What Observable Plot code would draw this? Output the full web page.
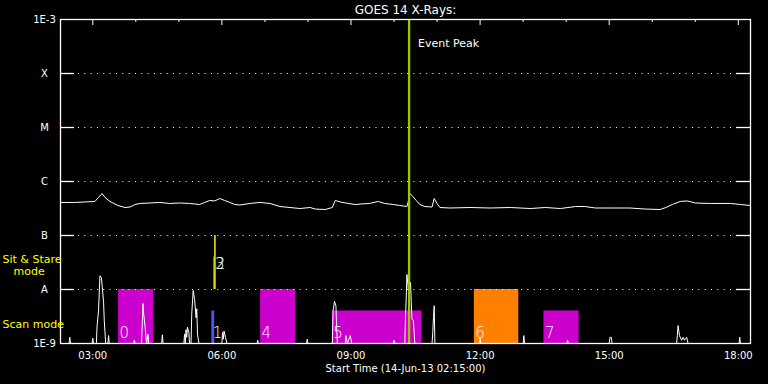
<!DOCTYPE html>
<html><head><meta charset="utf-8">
<script src="https://cdn.jsdelivr.net/npm/d3@7"></script>
<script src="https://cdn.jsdelivr.net/npm/@observablehq/plot@0.6"></script>
<style>html,body{margin:0;padding:0;background:#000;}</style>
</head><body><div id="chart"></div>
<script>
// ---- data ----
const title = "GOES 14 X-Rays:";
const xTitle = "Start Time (14-Jun-13 02:15:00)";
const timeDomain = ["02:15", "18:17"];
const hourTicks = [3,4,5,6,7,8,9,10,11,12,13,14,15,16,17,18];
const labelHours = [3, 6, 9, 12, 15, 18];
const levelValues = [1e-9, 1e-8, 1e-7, 1e-6, 1e-5, 1e-4, 1e-3];
const levelLabels = ["1E-9", "A", "B", "C", "M", "X", "1E-3"];

const goesTimes = ["02:15","02:35","02:49","03:03","03:08","03:13","03:17","03:24","03:35","03:45",
  "03:52","03:59","04:06","04:20","04:33","04:47","05:01","05:15","05:29","05:36",
  "05:43","05:50","05:57","06:04","06:11","06:18","06:25","06:39","06:53","07:07",
  "07:21","07:35","07:49","08:03","08:10","08:24","08:34","08:38","08:45","08:56",
  "09:06","09:15","09:26","09:38","09:47","09:59","10:08","10:18","10:21","10:22",
  "10:26","10:31","10:36","10:43","10:53","10:56","11:00","11:04","11:18","11:46",
  "12:14","12:42","13:10","13:31","13:52","14:13","14:26","14:41","15:02","15:29",
  "15:50","16:11","16:19","16:28","16:39","16:49","17:00","17:21","17:49","18:03",
  "18:17"];
const goesFlux = [4.09e-7,4.09e-7,4.18e-7,4.27e-7,5.06e-7,6.0e-7,5.06e-7,4.27e-7,3.59e-7,3.30e-7,
  3.37e-7,3.75e-7,3.92e-7,4.0e-7,4.09e-7,3.92e-7,4.0e-7,3.92e-7,3.75e-7,4.09e-7,
  4.45e-7,4.36e-7,4.84e-7,4.45e-7,4.09e-7,3.75e-7,3.67e-7,3.92e-7,4.09e-7,3.92e-7,
  3.44e-7,3.30e-7,3.16e-7,3.30e-7,3.09e-7,3.03e-7,3.30e-7,4.45e-7,4.18e-7,3.92e-7,
  3.75e-7,3.84e-7,3.92e-7,4.27e-7,3.92e-7,3.75e-7,3.59e-7,3.44e-7,4.84e-7,6.0e-7,
  5.3e-7,4.45e-7,3.75e-7,3.44e-7,3.37e-7,4.84e-7,3.92e-7,3.30e-7,3.23e-7,3.30e-7,
  3.23e-7,3.30e-7,3.16e-7,3.30e-7,3.16e-7,3.44e-7,3.44e-7,3.23e-7,3.23e-7,3.23e-7,
  3.09e-7,3.03e-7,3.30e-7,3.75e-7,4.27e-7,4.36e-7,4.0e-7,3.92e-7,3.92e-7,3.75e-7,
  3.59e-7];

const lowTimes = ["02:15","02:27","02:28","02:29","02:59","03:00","03:01","03:05","03:06","03:08",
  "03:10","03:12","03:13","03:15","03:16","03:18","03:21","03:22","03:23","03:57",
  "03:58","03:59","04:08","04:10","04:11","04:13","04:15","04:17","04:18","04:36",
  "04:37","04:38","05:07","05:08","05:09","05:10","05:11","05:12","05:14","05:15",
  "05:17","05:18","05:20","05:22","05:24","05:25","05:26","05:28","06:00","06:01",
  "06:02","06:03","06:05","06:07","06:49","06:50","06:51","07:58","07:59","08:00",
  "08:34","08:35","08:37","08:39","08:40","08:41","08:52","08:53","08:55","08:59",
  "09:00","09:01","09:59","10:00","10:01","10:15","10:16","10:17","10:18","10:20",
  "10:22","10:23","10:24","10:25","10:27","10:29","10:53","10:54","10:55","10:56",
  "10:57","11:59","12:00","12:01","13:00","13:01","13:02","14:01","14:02","14:03",
  "15:00","15:01","15:03","15:04","16:34","16:35","16:36","16:38","16:41","16:43",
  "16:45","16:48","16:50","18:01","18:02","18:03","18:17"];
const lowFlux = [1e-9,1e-9,1.3e-9,1e-9,1e-9,1.25e-9,1e-9,1e-9,2.1e-9,4e-9,
  1.8e-8,1.65e-8,1.2e-8,6e-9,2.7e-9,1e-9,1e-9,1.4e-9,1e-9,1e-9,
  1.15e-9,1e-9,1e-9,5.5e-9,3.5e-9,2e-9,1e-9,1.5e-9,1e-9,1e-9,
  1.45e-9,1e-9,1e-9,1.5e-9,1e-9,1.8e-9,1.3e-9,2e-9,1.6e-9,1e-9,
  1e-9,3.6e-9,9.6e-9,6.5e-9,3e-9,4.4e-9,1.5e-9,1e-9,1e-9,1.6e-9,
  1.2e-9,1.7e-9,1.3e-9,1e-9,1e-9,1.15e-9,1e-9,1e-9,1.2e-9,1e-9,
  1e-9,4e-9,6e-9,5e-9,2e-9,1e-9,1e-9,1.4e-9,1e-9,1.4e-9,
  1.2e-9,1e-9,1e-9,1.15e-9,1e-9,1e-9,3e-9,7e-9,1.9e-8,1e-8,
  1.1e-8,1.35e-8,6e-9,2.8e-9,2.7e-9,1e-9,1e-9,1.6e-9,3e-9,5e-9,
  1e-9,1e-9,1.25e-9,1e-9,1e-9,1.4e-9,1e-9,1e-9,1.15e-9,1e-9,
  1e-9,1.3e-9,1.3e-9,1e-9,1e-9,1.4e-9,2.15e-9,1.4e-9,1.15e-9,1.3e-9,
  1.15e-9,1.3e-9,1e-9,1e-9,1.3e-9,1e-9,1e-9];

const obsLabels = ["0", "1", "2", "3", "4", "5", "6", "7"];
const obsStart  = ["03:36","05:46","05:50","05:49","06:54","08:34","11:52","13:29"];
const obsEnd    = ["04:25","05:50","05:52","05:50","07:43","10:39","12:54","14:18"];
const obsLow    = [1e-9, 1e-9, 1e-8, 1e-8, 1e-9, 1e-9, 1e-9, 1e-9];
const obsHigh   = [1e-8, 4e-9, 1e-7, 4e-8, 1e-8, 4e-9, 1e-8, 4e-9];
const obsColors = ["#cc00cc","#4f55f5","#ffff00","#ffff00","#cc00cc","#cc00cc","#ff8000","#cc00cc"];
const obsLabelFlux = [1.55e-9, 1.55e-9, 2.96e-8, 2.96e-8, 1.55e-9, 1.55e-9, 1.55e-9, 1.55e-9];

const peakTime = "10:21";
const peakLabel = "Event Peak";
const sitLabel = "Sit & Stare";
const sitLabel2 = "mode";
const scanLabel = "Scan mode";
const sitFlux = 3.6e-8, sitFlux2 = 2.15e-8, scanFlux = 2.25e-9;

// ---- helpers ----
const hrs = s => { const [h, m] = s.split(":").map(Number); return h + m / 60; };
const goes = goesTimes.map((t, i) => ({t: hrs(t), f: goesFlux[i]}));
const low = lowTimes.map((t, i) => ({t: hrs(t), f: lowFlux[i]}));
const obs = obsLabels.map((l, i) => ({label: l, x1: hrs(obsStart[i]), x2: hrs(obsEnd[i]),
  y1: obsLow[i], y2: obsHigh[i], color: obsColors[i], ly: obsLabelFlux[i]}));
const innerLevels = levelValues.slice(1, -1);
const fmtHour = h => String(h).padStart(2, "0") + ":00";
const W = "#ffffff";
const Y = "#ffff00";
const FONT = "DejaVu Sans, sans-serif";

const chart = Plot.plot({
  width: 768, height: 384,
  marginLeft: 60, marginRight: 18, marginTop: 19, marginBottom: 41,
  style: {background: "#000", color: W, fontFamily: FONT, fontSize: "10px"},
  x: {domain: timeDomain.map(hrs)},
  y: {type: "log", domain: [levelValues[0], levelValues[levelValues.length - 1]]},
  marks: [
    Plot.rect(obs, {x1: "x1", x2: "x2", y1: "y1", y2: "y2", fill: "color"}),
    Plot.line(low, {x: "t", y: "f", stroke: W, strokeWidth: 1}),
    Plot.text(obs, {x: "x1", y: "ly", text: "label", fill: W, fontSize: 15, fontWeight: 200,
      textAnchor: "start", dx: 1}),
    Plot.line(goes, {x: "t", y: "f", stroke: W, strokeWidth: 1}),
    Plot.ruleY(innerLevels, {stroke: W, strokeDasharray: "1,5.33", insetLeft: 18, insetRight: 15}),
    Plot.ruleY(innerLevels, {stroke: W, strokeWidth: 1.3, insetRight: 676}),
    Plot.ruleY(innerLevels, {stroke: W, strokeWidth: 1.3, insetLeft: 676}),
    Plot.ruleX(hourTicks.filter(h => h % 3 !== 0), {stroke: W, insetBottom: 321}),
    Plot.ruleX(hourTicks.filter(h => h % 3 === 0), {stroke: W, insetBottom: 318}),
    Plot.ruleX([hrs(peakTime)], {stroke: "#99cc00", strokeWidth: 2.3}),
    Plot.text([peakLabel], {x: hrs(peakTime), frameAnchor: "top", lineAnchor: "middle", dy: 24, dx: 9,
      textAnchor: "start", fill: W, fontSize: 11}),
    Plot.frame({stroke: W, strokeWidth: 1.3}),
    Plot.axisX(labelHours, {anchor: "bottom", tickSize: 0, tickPadding: 8, tickFormat: fmtHour,
      fill: W, fontSize: 10, label: null}),
    Plot.axisY(levelValues, {anchor: "left", tickSize: 0, tickPadding: 16, textAnchor: "middle",
      tickFormat: d => levelLabels[levelValues.indexOf(d)], fill: W, fontSize: 10, label: null}),
    Plot.text([sitLabel], {y: sitFlux, frameAnchor: "left", dx: -58, textAnchor: "start", fill: Y, fontSize: 11}),
    Plot.text([sitLabel2], {y: sitFlux2, frameAnchor: "left", dx: -47, textAnchor: "start", fill: Y, fontSize: 11}),
    Plot.text([scanLabel], {y: scanFlux, frameAnchor: "left", dx: -58, textAnchor: "start", fill: Y, fontSize: 11}),
    Plot.text([title], {frameAnchor: "top", lineAnchor: "middle", dy: -9.5, fill: W, fontSize: 12}),
    Plot.text([xTitle], {frameAnchor: "bottom", lineAnchor: "middle", dy: 25, fill: W, fontSize: 10})
  ]
});
document.getElementById("chart").appendChild(chart);
</script>
</body></html>
